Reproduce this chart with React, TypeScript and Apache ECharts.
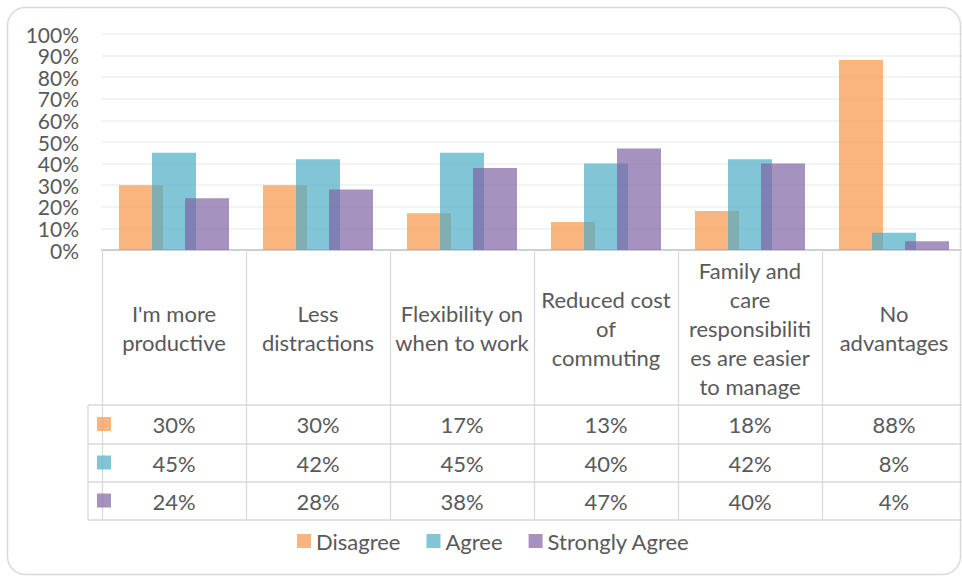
import React, { useEffect, useRef } from "react";
import * as echarts from "echarts";

const categories = [
  "I'm more productive",
  "Less distractions",
  "Flexibility on when to work",
  "Reduced cost of commuting",
  "Family and care responsibilities are easier to manage",
  "No advantages",
];
const headerLabels = [
  "I'm more\nproductive",
  "Less\ndistractions",
  "Flexibility on\nwhen to work",
  "Reduced cost\nof\ncommuting",
  "Family and\ncare\nresponsibiliti\nes are easier\nto manage",
  "No\nadvantages",
];
const seriesNames = ["Disagree", "Agree", "Strongly Agree"];
const disagree = [30, 30, 17, 13, 18, 88];
const agree = [45, 42, 45, 40, 42, 8];
const stronglyAgree = [24, 28, 38, 47, 40, 4];
const yTicks = [0, 10, 20, 30, 40, 50, 60, 70, 80, 90, 100];

const COLORS = [
  "rgba(247,150,70,0.7)",
  "rgba(75,172,198,0.7)",
  "rgba(128,100,162,0.7)",
];
const FONT = "Lato";
const FS = 22;
const TEXT = "#595959";
const LINE = "#D9D9D9";

export default function App() {
  const ref = useRef<HTMLDivElement>(null);
  useEffect(() => {
    if (!ref.current) return;
    const chart = echarts.init(ref.current, null, { renderer: "svg" });

    const gridLeft = 102;
    const gridTop = 34;
    const gridBottomY = 250;
    const rowLines = [405, 444, 482, 520];
    const rowData = [disagree, agree, stronglyAgree];

    const valueAxis = (i: number) => {
      const center = (rowLines[i] + rowLines[i + 1]) / 2;
      return {
        type: "category",
        gridIndex: 0,
        position: "bottom",
        data: categories,
        axisLine: { show: false },
        axisTick: { show: false },
        axisLabel: {
          interval: 0,
          margin: center - gridBottomY,
          verticalAlign: "middle",
          fontFamily: FONT,
          fontSize: FS,
          lineHeight: 24,
          color: TEXT,
          formatter: (_v: string, idx: number) => rowData[i][idx] + "%",
        },
      };
    };

    const graphics: any[] = [];
    rowLines.forEach((y) => {
      graphics.push({
        type: "line",
        shape: { x1: 88, y1: y, x2: 970, y2: y },
        style: { stroke: LINE, lineWidth: 1.3 },
        z: 5,
      });
    });
    graphics.push({
      type: "line",
      shape: { x1: 88, y1: rowLines[0], x2: 88, y2: rowLines[3] },
      style: { stroke: LINE, lineWidth: 1.3 },
      z: 5,
    });
    COLORS.forEach((c, i) => {
      const center = (rowLines[i] + rowLines[i + 1]) / 2;
      graphics.push({
        type: "rect",
        shape: { x: 97, y: center - 7.5, width: 14, height: 14 },
        style: { fill: c },
        z: 100,
      });
    });
    graphics.push({
      type: "rect",
      shape: { x: 7.5, y: 7.5, width: 953, height: 567, r: 18 },
      style: { fill: "none", stroke: "#D9D9D9", lineWidth: 1.5 },
      z: 1,
    });

    chart.setOption({
      animation: false,
      backgroundColor: "#fff",
      textStyle: { fontFamily: FONT },
      grid: {
        left: gridLeft,
        top: gridTop,
        width: 864,
        height: gridBottomY - gridTop,
        containLabel: false,
        outerBoundsMode: "none",
      },
      legend: {
        data: seriesNames,
        left: 297,
        top: 530,
        padding: 0,
        itemWidth: 14,
        itemHeight: 14,
        itemGap: 26,
        icon: "rect",
        textStyle: { fontFamily: FONT, fontSize: FS, color: TEXT, lineHeight: 22 },
      },
      xAxis: [
        {
          type: "category",
          data: categories,
          axisLine: { show: true, lineStyle: { color: "#D0D0D0", width: 2 } },
          axisTick: {
            show: true,
            alignWithLabel: false,
            length: rowLines[3] - gridBottomY,
            lineStyle: { color: LINE, width: 1.3 },
          },
          axisLabel: {
            interval: 0,
            margin: 78,
            verticalAlign: "middle",
            align: "center",
            lineHeight: 29,
            fontFamily: FONT,
            fontSize: FS,
            color: TEXT,
            formatter: (_v: string, idx: number) => headerLabels[idx],
          },
        },
        valueAxis(0),
        valueAxis(1),
        valueAxis(2),
      ],
      yAxis: {
        type: "value",
        min: yTicks[0],
        max: yTicks[yTicks.length - 1],
        interval: 10,
        axisLine: { show: false },
        axisTick: { show: false },
        axisLabel: {
          margin: 23,
          fontFamily: FONT,
          fontSize: 21,
          color: TEXT,
          showMinLabel: true,
          showMaxLabel: true,
          formatter: "{value}%",
        },
        splitLine: { lineStyle: { color: "#EFEFEF", width: 1.5 } },
      },
      graphic: graphics,
      series: [disagree, agree, stronglyAgree].map((d, i) => ({
        name: seriesNames[i],
        type: "bar",
        data: d,
        barWidth: 44,
        barGap: "-25%",
        itemStyle: { color: COLORS[i] },
      })),
    });

    return () => chart.dispose();
  }, []);

  return (
    <div
      ref={ref}
      style={{ position: "absolute", left: 0, top: 0, width: 962, height: 576 }}
    />
  );
}
